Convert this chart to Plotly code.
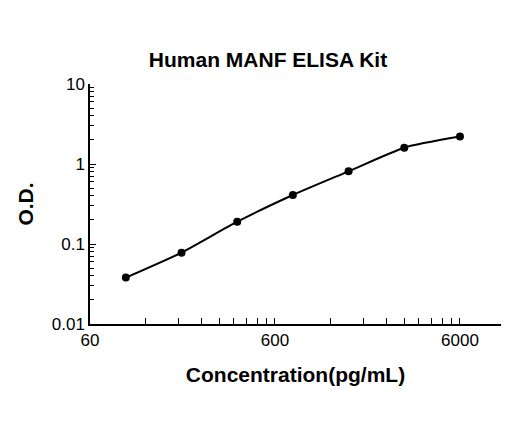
import plotly.graph_objects as go

conc = [93.75, 187.5, 375, 750, 1500, 3000, 6000]
od = [0.038, 0.078, 0.19, 0.41, 0.81, 1.6, 2.2]
x_ticks = [60, 600, 6000]
y_ticks = [0.01, 0.1, 1, 10]

x_minor = [60*k for k in range(2, 11)] + [600*k for k in range(2, 11)]
y_minor = [m*d for d in (0.01, 0.1, 1) for m in range(2, 10)]

fig = go.Figure()
fig.add_trace(go.Scatter(x=conc, y=od, mode="lines+markers",
                         line=dict(color="black", width=2, shape="spline", smoothing=0.6),
                         marker=dict(color="black", size=8)))
font = "Liberation Sans, Arial, sans-serif"
fig.update_layout(
    width=520, height=421, plot_bgcolor="white", paper_bgcolor="white",
    showlegend=False, margin=dict(l=82, r=27, t=76, b=105),
    title=dict(text="<b>Human MANF ELISA Kit</b>", x=0.5, xanchor="center", y=0.895,
               font=dict(family=font, size=21, color="black")),
    font=dict(family=font, color="black"),
)
fig.update_xaxes(type="log", range=[1.7782, 4], tickvals=x_ticks, ticktext=[str(v) for v in x_ticks],
                 ticks="", showgrid=False, showline=True, linecolor="black", linewidth=1.5,
                 tickfont=dict(size=17), automargin=False,
                 minor=dict(tickmode="array", tickvals=x_minor, ticks="inside", ticklen=6,
                            tickcolor="black", showgrid=False),
                 title=dict(text="<b>Concentration(pg/mL)</b>", font=dict(size=21), standoff=18))
fig.update_yaxes(type="log", range=[-2, 1], tickvals=y_ticks, ticktext=["0.01", "0.1", "1", "10"],
                 ticks="inside", ticklen=6, tickcolor="black",
                 showgrid=False, showline=True, linecolor="black", linewidth=1.5,
                 tickfont=dict(size=17), automargin=False,
                 minor=dict(tickmode="array", tickvals=y_minor, ticks="inside", ticklen=4,
                            tickcolor="black", showgrid=False),
                 title=dict(text="<b>O.D.</b>", font=dict(size=21), standoff=12))
fig.write_html("out.html")
